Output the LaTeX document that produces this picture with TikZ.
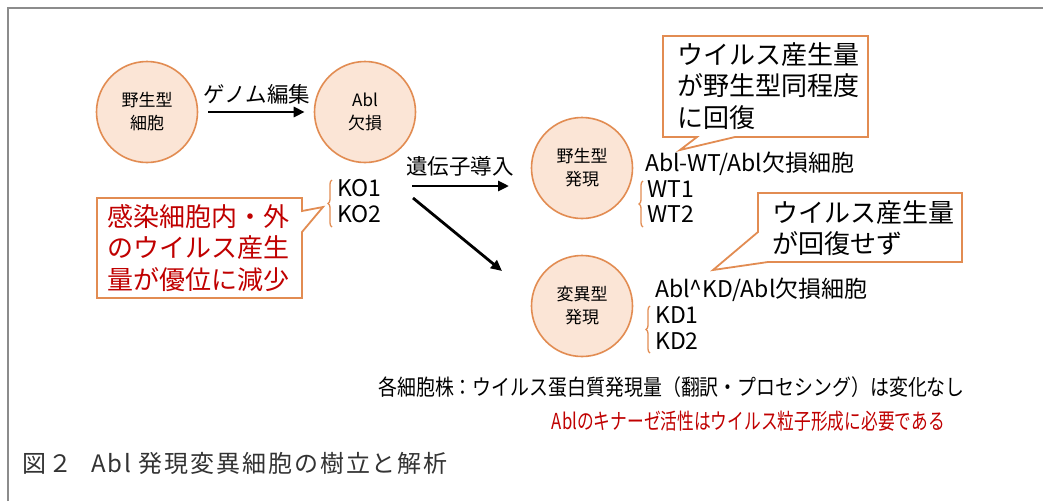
\documentclass[tikz,border=0pt]{standalone}
\usepackage{graphicx}
\usepackage{fontspec}
\setmainfont{Noto Sans CJK JP}
\usetikzlibrary{arrows.meta,decorations.pathreplacing,calc}
\definecolor{orng}{RGB}{226,140,82}
\definecolor{peach}{RGB}{251,229,214}
\definecolor{dred}{RGB}{192,0,0}
\definecolor{framegray}{RGB}{140,140,140}
\begin{document}
\begin{tikzpicture}[x=1pt,y=-1pt,
  cell/.style={circle,draw=orng,fill=peach,line width=1.6pt,minimum size=101pt,inner sep=0pt,align=center,font=\fontsize{17}{23}\selectfont},
  arr/.style={-{Triangle[length=11pt,width=10pt]},line width=2.8pt},
  lbl/.style={inner sep=0pt,anchor=base west,font=\fontsize{23}{26}\selectfont},
  biglbl/.style={inner sep=0pt,font=\fontsize{21.5}{26}\selectfont},
  callout/.style={draw=orng,line width=1.8pt,fill=white,line join=miter},
  cotext/.style={inner sep=0pt,align=left,font=\fontsize{26}{31.5}\selectfont},
  brc/.style={draw=orng,line width=1.3pt,decorate,decoration={brace,amplitude=4pt}},
  bottomtxt/.style={inner sep=0pt,anchor=base east,font=\fontsize{22}{24}\selectfont}
]
\useasboundingbox (0,0) rectangle (1043,501);
\fill[white] (0,0) rectangle (1043,501);
\draw[framegray,line width=2.5pt] (8,501) -- (8,8) -- (1043,8);

% cells
\node[cell] (c1) at (147,112) {野生型\\細胞};
\node[cell] (c2) at (365,112) {Abl\\欠損};
\node[cell] (c3) at (582,168) {野生型\\発現};
\node[cell] (c4) at (582,306) {変異型\\発現};

% genome editing arrow
\draw[arr,shorten <=10pt,shorten >=9pt] (c1.east) -- (c2.west);
\node[biglbl] (ge) at (257,94) {ゲノム編集};

% gene transfer arrows
\coordinate (t0) at (412,186);
\coordinate (t1) at (509,186);
\coordinate (d0) at (413,198);
\coordinate (d1) at (502,271);
\draw[arr] (t0) -- (t1);
\draw[arr] (d0) -- (d1);
\node[biglbl] (gt) at (460,166) {遺伝子導入};

% KO lines
\node[lbl] (ko1) at (337,196) {KO1};
\node[lbl] (ko2) at (337,222) {KO2};
\coordinate (kb0) at (332,227);
\coordinate (kb1) at (332,180);
\draw[brc] (kb0) -- (kb1);

% WT lines
\node[lbl] (wth) at (645,171) {Abl-WT/Abl欠損細胞};
\node[lbl] (wt1) at (647,197) {WT1};
\node[lbl] (wt2) at (647,222) {WT2};
\coordinate (wb0) at (643,227);
\coordinate (wb1) at (643,181);
\draw[brc] (wb0) -- (wb1);

% KD lines
\node[lbl] (kdh) at (655,297) {Abl\textasciicircum KD/Abl欠損細胞};
\node[lbl] (kd1) at (655,323) {KD1};
\node[lbl] (kd2) at (655,349) {KD2};
\coordinate (db0) at (650,353);
\coordinate (db1) at (650,306);
\draw[brc] (db0) -- (db1);

% red callout
\draw[callout] (97,198) -- (302,198) -- (302,211) -- (323,207) -- (302,232) -- (302,298) -- (97,298) -- cycle;
\node[cotext,text=dred,anchor=west] (rc) at (107,248) {感染細胞内・外\\のウイルス産生\\量が優位に減少};

% top callout
\draw[callout] (663,36) -- (868,36) -- (868,137) -- (735,137) -- (680,150) -- (697,137) -- (663,137) -- cycle;
\node[cotext,anchor=west] (tc) at (677,86) {ウイルス産生量\\が野生型同程度\\に回復};

% bottom callout
\draw[callout] (758,193) -- (962,193) -- (962,262) -- (768,262) -- (713,270) -- (758,232) -- cycle;
\node[cotext,anchor=west] (bc) at (772,228) {ウイルス産生量\\が回復せず};

% bottom text
\node[bottomtxt] (s1) at (965,395) {\scalebox{0.86}[1]{各細胞株：ウイルス蛋白質発現量（翻訳・プロセシング）は変化なし}};
\node[bottomtxt,text=dred] (s2) at (945,429) {\scalebox{0.76}[1]{Ablのキナーゼ活性はウイルス粒子形成に必要である}};

% caption
\node[inner sep=0pt,anchor=base west,font=\fontsize{24}{26}\selectfont\addfontfeature{LetterSpace=8},text=black!80] (cap) at (22,472) {図２\hspace{0.8em}Abl 発現変異細胞の樹立と解析};
\end{tikzpicture}
\end{document}
